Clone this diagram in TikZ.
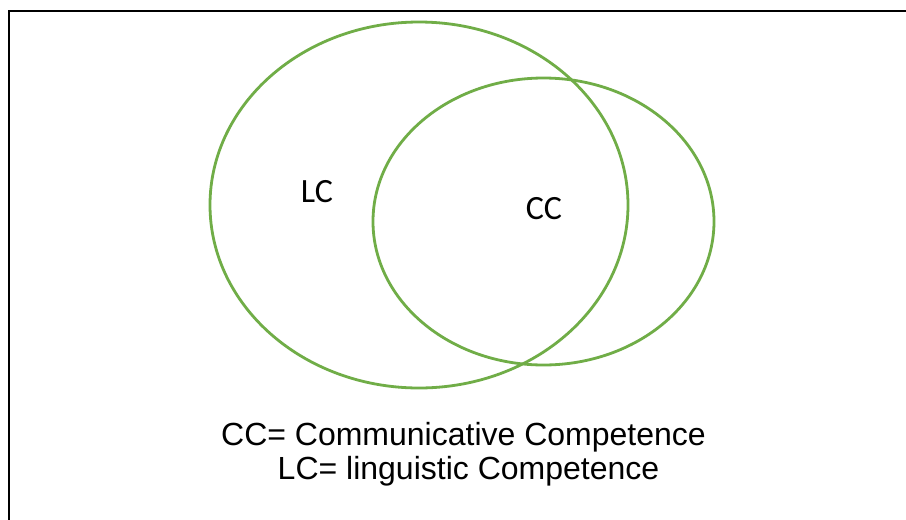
\documentclass[tikz,border=0pt]{standalone}
\usepackage{fontspec}
\setmainfont{Liberation Sans}
\newfontfamily\calib{Carlito}
\definecolor{vgreen}{RGB}{112,173,71}
\begin{document}
\begin{tikzpicture}[x=1pt,y=-1pt,
  circ/.style={draw=vgreen,line width=2.8pt},
  lbl/.style={inner sep=0pt,anchor=base,font=\calib\fontsize{34}{36}\selectfont},
  leg/.style={inner sep=0pt,anchor=base,font=\fontsize{32}{34}\selectfont}]
\useasboundingbox (0,0) rectangle (906,520);
\fill[white] (0,0) rectangle (906,520);
\draw[line width=2.2pt] (9,530) -- (9,11) -- (920,11);
\draw[circ] (419,205) ellipse [x radius=209,y radius=183];
\draw[circ] (543.5,221.5) ellipse [x radius=170.5,y radius=143.5];
\node[lbl] (lc) at (317,202) {LC};
\node[lbl] (cc) at (544,219) {CC};
\node[leg] (l1) at (463.5,445.5) {CC= Communicative Competence};
\node[leg] (l2) at (468.5,479) {LC= linguistic Competence};
\end{tikzpicture}
\end{document}
